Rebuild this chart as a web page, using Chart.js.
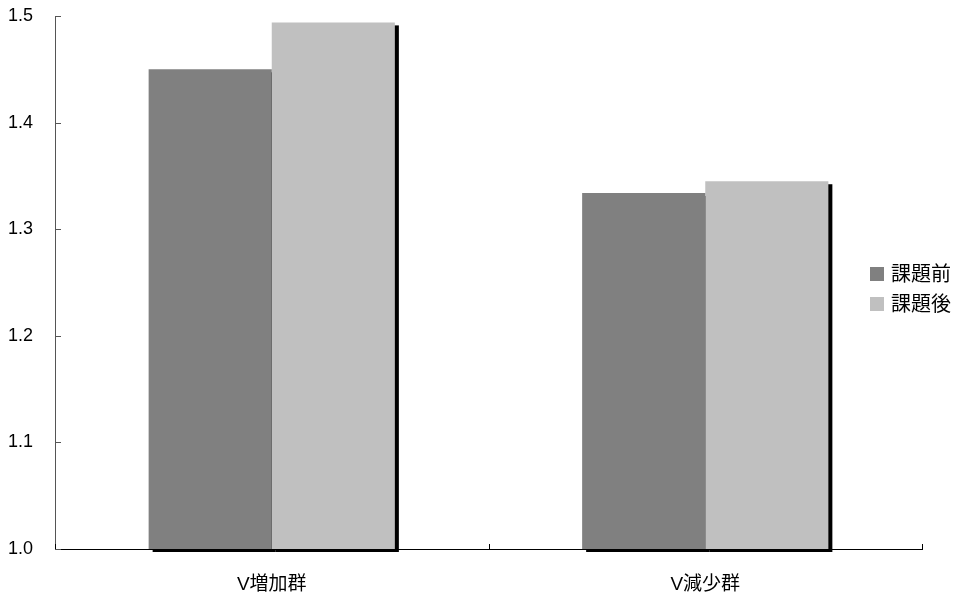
<!DOCTYPE html>
<html><head><meta charset="utf-8">
<script src="https://cdn.jsdelivr.net/npm/chart.js@4"></script>
<style>html,body{margin:0;padding:0;background:#fff;}#wrap{width:957px;height:598px;}</style>
</head><body><div id="wrap"><canvas id="c" width="957" height="598"></canvas></div>
<script>
const categories = ['V増加群', 'V減少群'];
const seriesNames = ['課題前', '課題後'];
const beforeValues = [1.450, 1.334];
const afterValues = [1.494, 1.345];
const yTicks = [1.0, 1.1, 1.2, 1.3, 1.4, 1.5];

const FONT = "'Liberation Sans', 'Noto Sans CJK JP', sans-serif";
const colors = ['#808080', '#c0c0c0'];

const shadowPlugin = {
  id: 'shadow',
  beforeDatasetsDraw(chart) {
    const ctx = chart.ctx, ca = chart.chartArea;
    ctx.save();
    ctx.fillStyle = '#000';
    chart.data.datasets.forEach((ds, i) => {
      chart.getDatasetMeta(i).data.forEach(el => {
        const p = el.getProps(['x','y','base','width'], true);
        const b = Math.min(p.base, ca.bottom);
        ctx.fillRect(p.x - p.width/2 + 4, p.y + 3, p.width, b - p.y);
      });
    });
    ctx.restore();
  },
  afterDraw(chart) {
    const ctx = chart.ctx, y = chart.scales.y, ca = chart.chartArea;
    ctx.save();
    ctx.lineWidth = 1;
    ctx.strokeStyle = '#555';
    ctx.beginPath();
    y.ticks.forEach(t => {
      const py = Math.round(y.getPixelForValue(t.value)) + 0.5;
      ctx.moveTo(ca.left, py); ctx.lineTo(ca.left + 6, py);
    });
    ctx.stroke();
    ctx.strokeStyle = '#000';
    ctx.beginPath();
    const n = categories.length;
    const step = (ca.right - ca.left) / n;
    for (let i = 0; i <= n; i++) {
      const px = Math.round(ca.left + step * i) + 0.5;
      ctx.moveTo(px, ca.bottom); ctx.lineTo(px, ca.bottom - 5);
    }
    ctx.stroke();
    // legend
    ctx.font = '20px ' + FONT;
    ctx.textBaseline = 'middle';
    ctx.textAlign = 'left';
    seriesNames.forEach((name, i) => {
      const cy = 274 + i * 30;
      ctx.fillStyle = colors[i];
      ctx.fillRect(870, cy - 7, 14, 14);
      ctx.fillStyle = '#000';
      ctx.fillText(name, 891, cy + 1);
    });
    ctx.restore();
  }
};

new Chart(document.getElementById('c'), {
  type: 'bar',
  data: {
    labels: categories,
    datasets: [
      { label: seriesNames[0], data: beforeValues, backgroundColor: colors[0] },
      { label: seriesNames[1], data: afterValues, backgroundColor: colors[1] }
    ]
  },
  options: {
    responsive: false,
    animation: false,
    devicePixelRatio: 1,
    layout: { padding: { top: 16, right: 35, left: 0, bottom: 0 } },
    datasets: { bar: { categoryPercentage: 0.568, barPercentage: 1.0 } },
    plugins: { legend: { display: false }, tooltip: { enabled: false } },
    scales: {
      x: {
        grid: { display: false, drawTicks: false },
        border: { display: true, color: '#000', width: 1 },
        ticks: { color: '#000', font: { family: FONT, size: 19 }, padding: 24 },
        afterFit: s => { s.height = 49; s.paddingLeft = 0; s.paddingRight = 0; }
      },
      y: {
        min: 1.0, max: 1.5,
        afterBuildTicks: s => { s.ticks = yTicks.map(v => ({ value: v })); },
        grid: { display: false, drawTicks: false },
        border: { display: true, color: '#555', width: 1 },
        ticks: { color: '#000', font: { family: FONT, size: 18 }, padding: 22,
                 callback: v => Number(v).toFixed(1) },
        afterFit: s => { s.width = 55; s.paddingTop = 0; s.paddingBottom = 0; }
      }
    }
  },
  plugins: [shadowPlugin]
});
</script></body></html>
